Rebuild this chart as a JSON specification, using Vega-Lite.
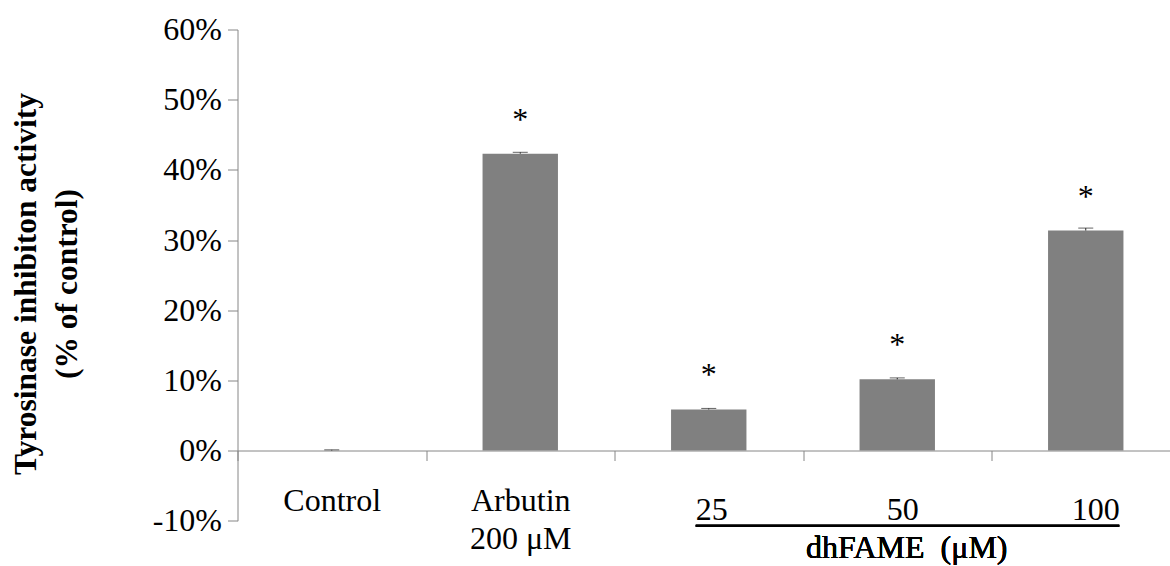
{
  "$schema": "https://vega.github.io/schema/vega-lite/v6.json",
  "autosize": {"type": "none"},
  "padding": {"left": 237.5, "top": 29.5, "right": 0, "bottom": 45.3},
  "width": 932.5,
  "height": 491.2,
  "background": "white",
  "config": {
    "view": {"stroke": null},
    "font": "Liberation Serif",
    "text": {"font": "Liberation Serif"}
  },
  "data": {
    "values": [
      {"group": "Control", "value": 0, "upper": 0.1, "sig": ""},
      {"group": "Arbutin 200 μM", "value": 42.3, "upper": 42.5, "sig": "*"},
      {"group": "25", "value": 5.85, "upper": 6.0, "sig": "*"},
      {"group": "50", "value": 10.15, "upper": 10.35, "sig": "*"},
      {"group": "100", "value": 31.35, "upper": 31.7, "sig": "*"}
    ]
  },
  "encoding": {
    "x": {
      "field": "group",
      "type": "nominal",
      "sort": null,
      "scale": {"range": [0, 942.5], "paddingInner": 0, "paddingOuter": 0},
      "axis": {
        "title": null,
        "orient": "bottom",
        "offset": -70.2,
        "domainColor": "#868686",
        "domainWidth": 1,
        "tickColor": "#868686",
        "tickSize": 10,
        "tickBand": "extent",
        "labelAngle": 0,
        "labelFont": "Liberation Serif",
        "labelFontSize": 32,
        "labelColor": "black",
        "labelBaseline": "top",
        "labelLineHeight": 38,
        "labelExpr": "datum.value == 'Arbutin 200 μM' ? ['Arbutin', '200 μM'] : datum.value",
        "labelPadding": {"condition": {"test": "datum.value == 'Control' || datum.value == 'Arbutin 200 μM'", "value": 25}, "value": 33.7},
        "labelOffset": {"condition": [
          {"test": "datum.value == '25'", "value": 2.5},
          {"test": "datum.value == '50'", "value": 5},
          {"test": "datum.value == '100'", "value": 9.5}
        ], "value": 0}
      }
    }
  },
  "layer": [
    {
      "mark": {"type": "bar", "color": "#808080", "width": {"band": 0.4}},
      "encoding": {
        "y": {
          "field": "value",
          "type": "quantitative",
          "scale": {"domain": [-10, 60], "nice": false, "zero": false},
          "axis": {
            "values": [-10, 0, 10, 20, 30, 40, 50, 60],
            "labelExpr": "datum.value + '%'",
            "grid": false,
            "domainColor": "#868686",
            "tickColor": "#868686",
            "tickSize": 10,
            "labelFont": "Liberation Serif",
            "labelFontSize": 32,
            "labelColor": "black",
            "labelPadding": 6,
            "title": ["Tyrosinase inhibiton activity", "(% of control)"],
            "titleFont": "Liberation Serif",
            "titleFontSize": 31.5,
            "titleFontWeight": "bold",
            "titleColor": "black",
            "titleLineHeight": 41,
            "titleAngle": 270,
            "titleAlign": "center",
            "titleBaseline": "alphabetic",
            "titleX": -202,
            "titleY": 254
          }
        }
      }
    },
    {
      "mark": {"type": "rule", "color": "#222222", "strokeWidth": 1},
      "encoding": {
        "y": {"field": "value", "type": "quantitative"},
        "y2": {"field": "upper"}
      }
    },
    {
      "mark": {"type": "tick", "color": "#222222", "thickness": 1, "size": 15, "orient": "horizontal"},
      "encoding": {
        "y": {"field": "upper", "type": "quantitative"}
      }
    },
    {
      "mark": {"type": "text", "fontSize": 32, "baseline": "alphabetic", "dy": -24, "color": "black"},
      "encoding": {
        "y": {"field": "value", "type": "quantitative"},
        "text": {"field": "sig"}
      }
    },
    {
      "mark": {"type": "rule", "color": "black", "strokeWidth": 2, "xOffset": -13, "x2Offset": 33.5, "yOffset": 5, "y2Offset": 5},
      "encoding": {
        "x": {"datum": "25"},
        "x2": {"datum": "100"},
        "y": {"datum": -10},
        "y2": {"datum": -10}
      }
    },
    {
      "mark": {"type": "text", "fontSize": 32, "baseline": "alphabetic", "dx": 9.5, "dy": 37.3, "color": "black"},
      "encoding": {
        "x": {"datum": "50"},
        "y": {"datum": -10},
        "text": {"value": "dhFAME \u00a0(μM)"}
      }
    }
  ]
}
